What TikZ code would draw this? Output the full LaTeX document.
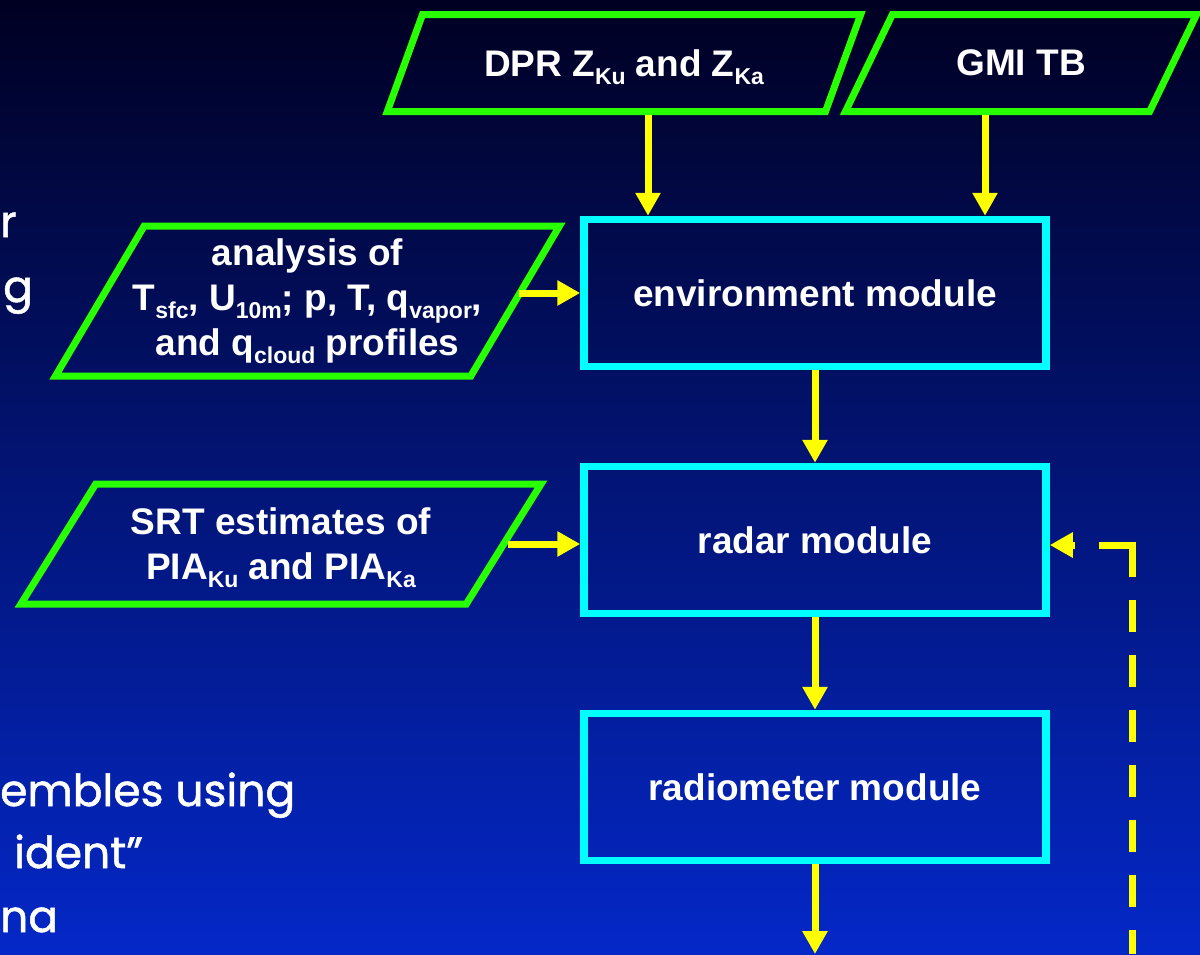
\documentclass[tikz,border=0pt]{standalone}
\usepackage{fontspec}
\setmainfont{Liberation Sans}
\newfontfamily\slidefont[FakeBold=1.2]{Poppins}
\usetikzlibrary{positioning}
\usetikzlibrary{shapes.geometric, arrows.meta}

\definecolor{inputgreen}{RGB}{40,255,0}
\definecolor{modcyan}{RGB}{0,255,255}
\definecolor{flowyellow}{RGB}{255,255,0}
\definecolor{bgtop}{RGB}{0,0,34}
\definecolor{bgbottom}{RGB}{4,40,200}

\newcommand{\lowsub}[1]{\raisebox{-8pt}[0pt][0pt]{\fontsize{23}{23}\selectfont #1}}

\tikzset{
  inbox/.style={trapezium, trapezium stretches=true, draw=inputgreen,
    line width=7pt, text=white, align=center, inner sep=0pt},
  modbox/.style={draw=modcyan, line width=7.5pt, minimum width=462pt,
    minimum height=147pt, text=white},
  flow/.style={draw=flowyellow, line width=7pt,
    -{Triangle[width=24pt,length=23pt]}},
  slidetext/.style={anchor=base west, text=white, inner sep=0pt,
    font=\slidefont\fontsize{44}{44}\selectfont}
}

\begin{document}
\begin{tikzpicture}[x=1pt, y=-1pt, node distance=92.5pt,
    every node/.append style={font=\bfseries\fontsize{37}{45}\selectfont}]
  \shade[top color=bgtop, bottom color=bgbottom] (0,0) rectangle (1200,954);
  \useasboundingbox (0,0) rectangle (1200,954);
  \clip (0,0) rectangle (1200,954);

  % leftover slide text
  \node[slidetext] (t1) at (0,237) {r};
  \node[slidetext] (t2) at (3,302) {g};
  \node[slidetext] (t3) at (0,806) {embles using};
  \node[slidetext] (t4) at (14,868) {ident”};
  \node[slidetext] (t5) at (0,932) {na};

  % inputs
  \node[inbox, trapezium left angle=48, trapezium right angle=132,
    minimum width=474pt, minimum height=97pt] (dpr) at (624,63)
    {DPR Z\lowsub{Ku} and Z\lowsub{Ka}};
  \node[inbox, trapezium left angle=48, trapezium right angle=132,
    minimum width=352pt, minimum height=97pt] (gmi) at (1021,63) {GMI TB};
  \node[inbox, trapezium left angle=56, trapezium right angle=124,
    minimum width=505pt, minimum height=150pt, inner xsep=-20pt] (ana) at (307.5,301)
    {analysis of\\T\lowsub{sfc}, U\lowsub{10m}; p, T, q\lowsub{vapor},\\and q\lowsub{cloud} profiles};
  \node[inbox, trapezium left angle=50, trapezium right angle=130,
    minimum width=522pt, minimum height=120pt] (srt) at (281,544)
    {SRT estimates of\\PIA\lowsub{Ku} and PIA\lowsub{Ka}};

  % modules
  \node[modbox] (env) at (815,293) {environment module};
  \node[modbox, below=of env] (radar) {radar module};
  \node[modbox, below=of radar] (radiom) {radiometer module};

  \coordinate (out) at (815,954);
  \coordinate (loop) at (1132,954);

  \draw[flow] ([xshift=24pt]dpr.south) -- ([xshift=24pt]dpr.south |- env.north);
  \draw[flow] ([xshift=-36pt]gmi.south) -- ([xshift=-36pt]gmi.south |- env.north);
  \draw[flow] (env.west -| ana.east) -- (env.west);
  \draw[flow] (srt.east) -- (srt.east -| radar.west);
  \draw[flow] (env) -- (radar);
  \draw[flow] (radar) -- (radiom);
  \draw[flow] (radiom) -- (out);
  % feedback, dashed
  \draw[flow, {Triangle[width=24pt,length=23pt]}-, dash pattern=on 4pt off 24pt on 65pt off 23pt
    on 32pt off 23pt on 32pt off 23pt on 32pt off 23pt on 32pt off 23pt
    on 32pt off 23pt on 32pt off 23pt on 32pt off 23pt]
    ([yshift=-5pt]radar.east) -| (loop);
\end{tikzpicture}
\end{document}
